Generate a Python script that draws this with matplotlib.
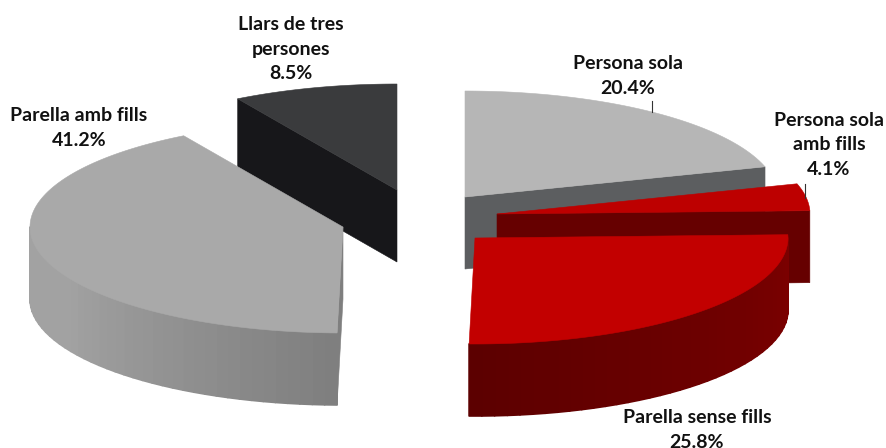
import matplotlib
matplotlib.use('Agg')
import matplotlib.pyplot as plt
from matplotlib.collections import PolyCollection
from matplotlib.colors import to_rgb
from matplotlib.patches import Polygon
import numpy as np

plt.rcParams['font.family'] = ['Lato', 'DejaVu Sans']

categories = ['Persona sola', 'Persona sola\namb fills', 'Parella sense fills',
              'Parella amb fills', 'Llars de tres\npersones']
shares = [20.4, 4.1, 25.8, 41.2, 8.5]

# exploded slice centres, pixels
centre_x = [465, 497, 475, 343, 397]
centre_y = [197, 214, 238, 227, 190]
top_col = ['#b6b6b6', '#bd0000', '#c20000', '#a9a9a9', '#3a3b3d']
cut_col = ['#5c5e60', '#660000', '#660000', '#7f7f7f', '#17171a']
side_col = [('#5c5e60', '#5c5e60'), ('#660000', '#660000'), ('#7c0000', '#5c0000'),
            ('#7f7f7f', '#a2a2a2'), ('#17171a', '#17171a')]
label_x = [628, 829, 697, 79, 291]
label_y = [76, 145, 430, 128, 49]

RX, RY, DEPTH = 313, 106, 72

edges = np.concatenate([[0], np.cumsum(shares)]) / sum(shares) * 360


def rim(i, ang):
    a = np.radians(ang)
    return centre_x[i] + RX * np.sin(a), centre_y[i] - RY * np.cos(a)


def cut_face(ax, i, ang):
    x, y = rim(i, ang)
    cx, cy = centre_x[i], centre_y[i]
    ax.add_patch(Polygon([(cx, cy), (x, y), (x, y + DEPTH), (cx, cy + DEPTH)],
                         fc=cut_col[i], ec=cut_col[i], lw=0.4))


def draw_slice(ax, i):
    a0, a1 = edges[i], edges[i + 1]
    if np.sin(np.radians(a0)) < 0:
        cut_face(ax, i, a0)
    if np.sin(np.radians(a1)) > 0:
        cut_face(ax, i, a1)

    # outer wall, only the part facing the viewer, shaded in small strips
    lo, hi = max(a0, 90), min(a1, 270)
    if lo < hi:
        ang = np.linspace(lo, hi, 40)
        x, y = rim(i, ang)
        c0, c1 = np.array(to_rgb(side_col[i][0])), np.array(to_rgb(side_col[i][1]))
        quads, cols = [], []
        for k in range(len(ang) - 1):
            quads.append([(x[k], y[k]), (x[k + 1], y[k + 1]),
                          (x[k + 1], y[k + 1] + DEPTH), (x[k], y[k] + DEPTH)])
            t = abs((ang[k] - 180) / 90) if i == 2 else (181 - ang[k]) / -148
            t = min(max(t, 0), 1)
            if i == 2:
                cols.append(c1 + (c0 - c1) * t)
            else:
                cols.append(c0 + (c1 - c0) * min(t * 2.5, 1))
        ax.add_collection(PolyCollection(quads, facecolors=cols, edgecolors=cols, linewidths=1.2))

    ang = np.linspace(a0, a1, 120)
    x, y = rim(i, ang)
    pts = [(centre_x[i], centre_y[i])] + list(zip(x, y))
    ax.add_patch(Polygon(pts, fc=top_col[i], ec=top_col[i], lw=0.4))


fig = plt.figure(figsize=(8.86, 4.48), dpi=100)
ax = fig.add_axes([0, 0, 1, 1])
ax.set_xlim(0, 886)
ax.set_ylim(448, 0)
ax.axis('off')

for i in [4, 0, 3, 1, 2]:
    draw_slice(ax, i)

# leader lines
ax.plot([652.5, 652.5], [101, 112], color='#333333', lw=0.8)
ax.plot([805.5, 805.5], [184, 198], color='#333333', lw=0.8)

for name, val, lx, ly in zip(categories, shares, label_x, label_y):
    ax.text(lx, ly, f'{name}\n{val}%', ha='center', va='center', fontsize=14,
            fontweight='bold', color='#111111', linespacing=1.52)

fig.savefig('out.png', dpi=100)
